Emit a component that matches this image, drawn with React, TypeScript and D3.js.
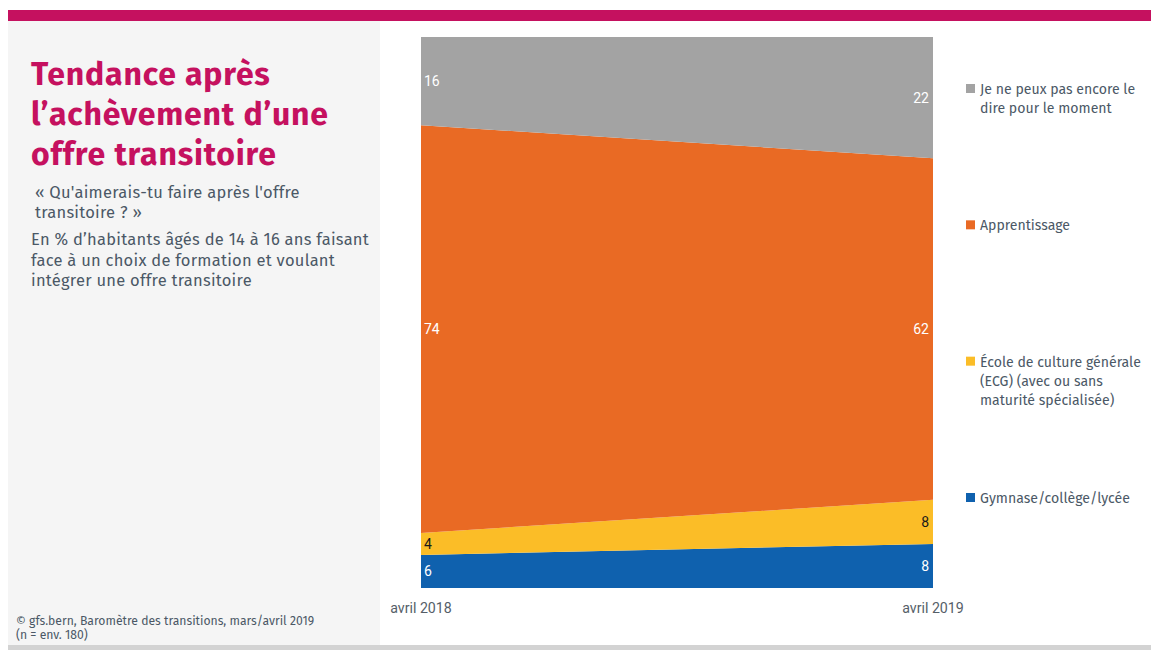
import React from "react";
import * as d3 from "d3";

const periods = ["avril 2018", "avril 2019"];
const seriesKeys = ["gymnase", "ecg", "apprentissage", "nsp"];
const gymnase = [6, 8];
const ecg = [4, 8];
const apprentissage = [74, 62];
const nsp = [16, 22];
const seriesColors = ["#0f61ae", "#fbbd27", "#e96a24", "#a3a3a3"];
const labelColors = ["#ffffff", "#1a1a1a", "#ffffff", "#ffffff"];
const legendLabels = [
  ["Je ne peux pas encore le", "dire pour le moment"],
  ["Apprentissage"],
  ["École de culture générale", "(ECG) (avec ou sans", "maturité spécialisée)"],
  ["Gymnase/collège/lycée"],
];
const legendColors = ["#a3a3a3", "#e96a24", "#fbbd27", "#0f61ae"];
const titleLines = ["Tendance après", "l’achèvement d’une", "offre transitoire"];
const questionLines = ["« Qu'aimerais-tu faire après l'offre", "transitoire ? »"];
const descLines = [
  "En % d’habitants âgés de 14 à 16 ans faisant",
  "face à un choix de formation et voulant",
  "intégrer une offre transitoire",
];
const footLines = ["© gfs.bern, Baromètre des transitions, mars/avril 2019", "(n = env. 180)"];

const W = 1151;
const H = 650;
const plot = { left: 421, right: 933, top: 37, bottom: 588 };
const textColor = "#4b5866";
const sans = "'Fira Sans', Roboto, 'Noto Sans', sans-serif";
const narrow = "'Liberation Sans Narrow', Roboto, sans-serif";

export default function App() {
  const rows = periods.map((p, i) => ({
    period: p,
    gymnase: gymnase[i],
    ecg: ecg[i],
    apprentissage: apprentissage[i],
    nsp: nsp[i],
  }));
  const stacked = d3.stack<any>().keys(seriesKeys)(rows);
  const x = d3.scalePoint<string>().domain(periods).range([plot.left, plot.right]);
  const y = d3.scaleLinear().domain([0, 100]).range([plot.bottom, plot.top]);
  const area = d3
    .area<any>()
    .x((d) => x(d.data.period) as number)
    .y0((d) => y(d[0]))
    .y1((d) => y(d[1]));

  const legendY = d3.scalePoint<number>().domain([0, 1, 2, 3]).range([89, 498]);

  return (
    <svg width={W} height={H} style={{ position: "absolute", left: 0, top: 0 }}>
      <rect x={0} y={0} width={W} height={H} fill="#ffffff" />
      <rect x={8} y={10} width={W - 8} height={11} fill="#c5115f" />
      <rect x={8} y={21} width={372} height={624} fill="#f5f5f5" />
      <rect x={8} y={645} width={W - 8} height={5} fill="#d3d3d3" />

      {titleLines.map((t, i) => (
        <text
          key={t}
          x={31}
          y={85 + i * 40}
          fill="#c5115f"
          fontFamily={sans}
          fontWeight={700}
          fontSize={32}
          letterSpacing={0.8}
        >
          {t}
        </text>
      ))}
      {questionLines.map((t, i) => (
        <text key={t} x={35} y={198 + i * 20} fill={textColor} fontFamily={sans} fontSize={16.5} letterSpacing={0.25}>
          {t}
        </text>
      ))}
      {descLines.map((t, i) => (
        <text key={t} x={31} y={245 + i * 20.5} fill={textColor} fontFamily={sans} fontSize={16.5} letterSpacing={0.25}>
          {t}
        </text>
      ))}
      {footLines.map((t, i) => (
        <text key={t} x={16} y={625 + i * 14} fill={textColor} fontFamily={sans} fontSize={12.2}>
          {t}
        </text>
      ))}

      {stacked.map((s, i) => (
        <path key={s.key} d={area(s as any) || ""} fill={seriesColors[i]} />
      ))}

      {stacked.map((s, i) =>
        s.map((d: any, j: number) => {
          const first = j === 0;
          const yy = (y(d[0]) + y(d[1])) / 2;
          return (
            <text
              key={s.key + j}
              x={first ? plot.left + 3 : plot.right - 4}
              y={yy}
              dy="0.35em"
              textAnchor={first ? "start" : "end"}
              fill={labelColors[i]}
              fontFamily={narrow}
              fontSize={14}
            >
              {d[1] - d[0]}
            </text>
          );
        })
      )}

      {periods.map((p) => (
        <text
          key={p}
          x={x(p) as number}
          y={608}
          dy="0.35em"
          textAnchor="middle"
          fill="#555e68"
          fontFamily={narrow}
          fontSize={14.2}
        >
          {p}
        </text>
      ))}

      {legendLabels.map((lines, i) => {
        const cy = legendY(i) as number;
        return (
          <g key={i}>
            <rect x={966} y={cy - 5} width={9} height={9} fill={legendColors[i]} />
            {lines.map((l, k) => (
              <text
                key={l}
                x={980}
                y={cy + k * 19}
                dy="0.35em"
                fill={textColor}
                fontFamily={sans}
                fontSize={14.1}
              >
                {l}
              </text>
            ))}
          </g>
        );
      })}
    </svg>
  );
}
